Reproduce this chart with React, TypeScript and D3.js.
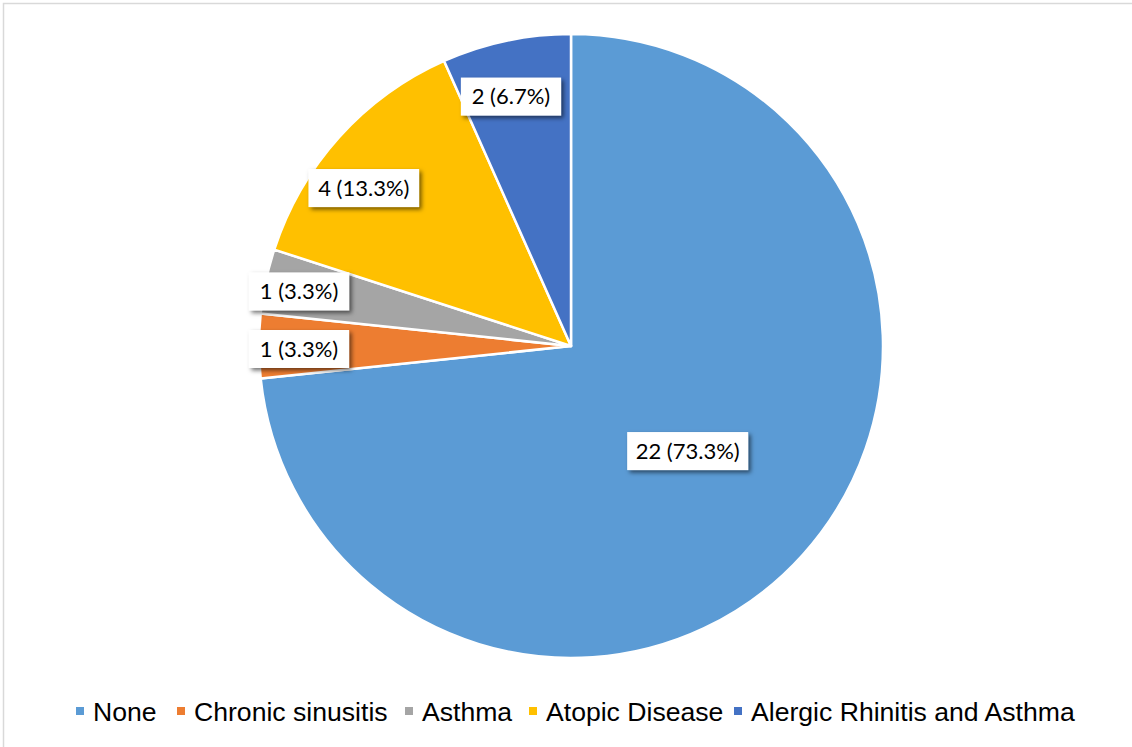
import React from "react";
import * as d3 from "d3";

// Comorbidity counts among the 30 patients
const categories = ["None", "Chronic sinusitis", "Asthma", "Atopic Disease", "Alergic Rhinitis and Asthma"];
const counts = [22, 1, 1, 4, 2];
const colors = ["#5B9BD5", "#ED7D31", "#A5A5A5", "#FFC000", "#4472C4"];

const W = 1132;
const H = 747;
const cx = 571;
const cy = 346;
const R = 312;
// distance of each data label from the pie centre, plus a small nudge
const labelRadius = [157, 272, 277, 260, 255];
const labelNudge: [number, number][] = [[0, 0], [0, 3], [-1, 3], [-14, 16], [-7, 0]];
const legendX = [80, 181, 409, 533, 738];

export default function App() {
  const total = d3.sum(counts);
  const pie = d3.pie<number>().sort(null).value((d) => d)(counts);
  const arc = d3.arc<d3.PieArcDatum<number>>().innerRadius(0).outerRadius(R);

  return (
    <svg
      width={W}
      height={H}
      style={{ position: "fixed", left: 0, top: 0, background: "#fff" }}
    >
      <defs>
        <filter id="lblShadow" x="-30%" y="-40%" width="160%" height="190%">
          <feDropShadow dx="2.5" dy="2.5" stdDeviation="2.2" floodColor="#000" floodOpacity="0.55" />
        </filter>
      </defs>
      <rect x={3.5} y={3.5} width={W + 20} height={H + 20} fill="#fff" stroke="#d9d9d9" strokeWidth={1.5} />
      <g transform={`translate(${cx},${cy})`}>
        {pie.map((p, i) => (
          <path key={categories[i]} d={arc(p) || ""} fill={colors[i]} stroke="#fff" strokeWidth={2.5} strokeLinejoin="round" />
        ))}
        {pie.map((p, i) => {
          const a = (p.startAngle + p.endAngle) / 2;
          const x = Math.sin(a) * labelRadius[i] + labelNudge[i][0];
          const y = -Math.cos(a) * labelRadius[i] + labelNudge[i][1];
          const text = `${counts[i]} (${((counts[i] / total) * 100).toFixed(1)}%)`;
          const bw = text.length * 10.4 + 17;
          const bh = 38;
          return (
            <g key={"lbl" + i} transform={`translate(${x},${y})`}>
              <rect x={-bw / 2} y={-bh / 2} width={bw} height={bh} fill="#fff" filter="url(#lblShadow)" />
              <text
                textAnchor="middle"
                dy="0.36em"
                fontFamily="Lato, 'Open Sans', sans-serif"
                fontSize={22}
                fill="#000"
              >
                {text}
              </text>
            </g>
          );
        })}
      </g>
      <g fontFamily="'Liberation Sans', Arial, sans-serif" fontSize={26.6} fill="#000">
        {categories.map((c, i) => (
          <g key={"lg" + i} transform={`translate(${legendX[i]},711)`}>
            <rect x={-4} y={-4} width={8} height={8} fill={colors[i]} />
            <text x={13} dy="0.36em">{c}</text>
          </g>
        ))}
      </g>
    </svg>
  );
}
